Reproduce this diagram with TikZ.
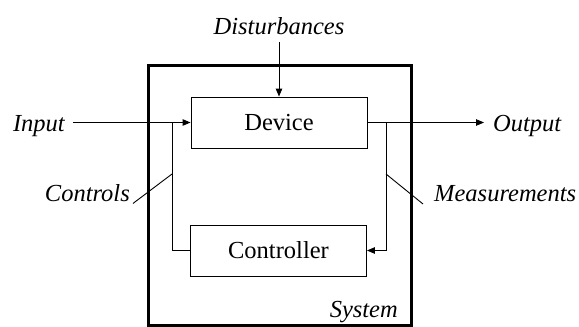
\documentclass[tikz,border=0pt]{standalone}
\usepackage{fontspec}
\setmainfont{DejaVu Serif}
\newfontfamily\tnr{Liberation Serif}
\usetikzlibrary{arrows.meta}
\begin{document}
\begin{tikzpicture}[x=1pt,y=-1pt,
  box/.style={draw,line width=0.9pt,minimum width=176pt,minimum height=51pt,inner sep=0pt,font=\tnr\fontsize{24.5}{28}\selectfont},
  lbl/.style={inner sep=0pt,font=\tnr\fontsize{24.5}{28}\selectfont\itshape},
  conn/.style={line width=0.9pt},
  arr/.style={conn,-{Triangle[length=8pt,width=6.5pt]}}]
\useasboundingbox (0,0) rectangle (579,327);
\node[draw,line width=3pt,minimum width=263pt,minimum height=260pt,inner sep=0pt] (sys) at (279.5,195) {};
\node[box] (dev) at (279,122.5) {Device};
\node[box] (ctl) at (278.5,250.5) {Controller};
\node[lbl,anchor=base] (dist) at (279,34) {Disturbances};
\node[lbl,anchor=base east] (inp) at (65,131.5) {Input};
\node[lbl,anchor=base west] (out) at (493,131.5) {Output};
\node[lbl,anchor=base east] (ctrls) at (130,201.5) {Controls};
\node[lbl,anchor=base west] (meas) at (434,201.5) {Measurements};
\node[lbl,anchor=base east] (sysl) at (398,317) {System};
\coordinate (dtop) at (279,42);
\coordinate (cj) at (172,122.5);
\coordinate (mj) at (386,122.5);
\coordinate (cl) at (172,174);
\coordinate (ml) at (386,174);
\draw[arr] (dtop) -- (dev.north);
\draw[arr,shorten <=8pt] (inp.east |- dev.west) -- (dev.west);
\draw[arr,shorten >=9pt] (dev.east) -- (dev.east -| out.west);
\draw[conn] (ctl.west) -- (cj |- ctl.west) -- (cj);
\draw[arr] (dev.east) -- (mj) |- (ctl.east);
\draw[conn] ([xshift=3pt,yshift=-1.5pt]ctrls.south east) -- (cl);
\draw[conn] (ml) -- ([xshift=-11pt,yshift=-2pt]meas.south west);
\end{tikzpicture}
\end{document}
